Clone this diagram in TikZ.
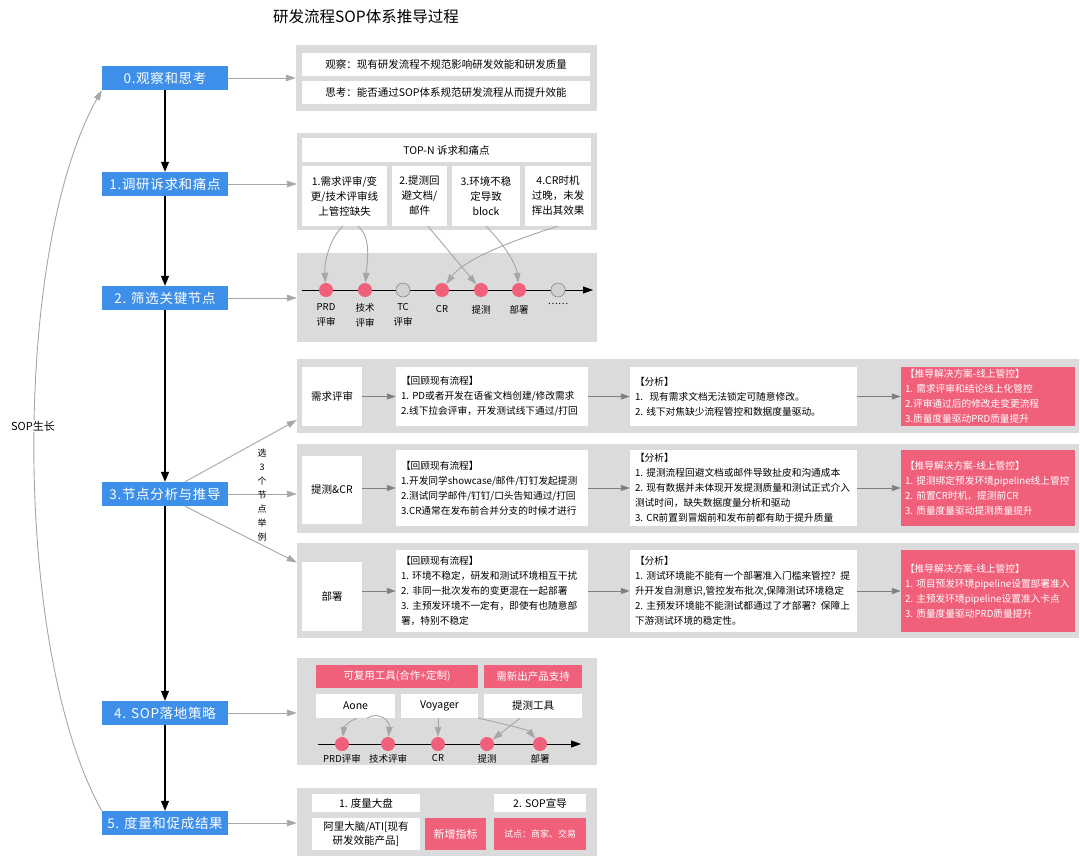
\documentclass[tikz,border=0pt]{standalone}
\usepackage{fontspec}
\setmainfont{Noto Sans CJK SC}
\usetikzlibrary{arrows.meta,positioning,calc}

\definecolor{sopblue}{HTML}{3D8FEA}
\definecolor{sopred}{HTML}{F0607A}
\definecolor{panelgray}{HTML}{DBDBDB}
\definecolor{linkgray}{HTML}{A6A6A6}
\definecolor{flowgray}{HTML}{7F7F7F}
\definecolor{dotgray}{HTML}{D2D2D2}
\definecolor{dotline}{HTML}{8A8A8A}

\newcommand{\stagefont}{\fontsize{13.5}{16}\selectfont\addfontfeature{LetterSpace=5}}
\newcommand{\boxfont}{\fontsize{10.5}{15}\selectfont}
\newcommand{\notefont}{\fontsize{9.7}{15}\selectfont}
\newcommand{\tinyfont}{\fontsize{9.5}{15}\selectfont}

\begin{document}
\begin{tikzpicture}[x=1pt,y=-1pt,
  stagebox/.style={fill=sopblue,text=white,minimum width=126pt,minimum height=24pt,inner sep=0pt,font=\stagefont},
  panel/.style={fill=panelgray,inner sep=0pt},
  wbox/.style={fill=white,inner sep=0pt,align=center,font=\boxfont},
  crbox/.style={fill=sopred,text=white,inner sep=0pt,align=center,font=\boxfont},
  lbox/.style={fill=white,inner xsep=5pt,inner ysep=0pt,align=left,font=\notefont},
  rbox/.style={fill=sopred,text=white,inner xsep=4pt,inner ysep=0pt,align=left,font=\notefont},
  reddot/.style={circle,fill=sopred,minimum size=14pt,inner sep=0pt},
  greydot/.style={circle,fill=dotgray,draw=dotline,line width=0.6pt,minimum size=14pt,inner sep=0pt},
  lbl/.style={font=\tinyfont,align=center,inner sep=0pt},
  main/.style={-{Triangle[length=10pt,width=8pt]},line width=1.1pt},
  link/.style={-{Triangle[length=10pt,width=6.5pt]},draw=linkgray,line width=0.9pt},
  flow/.style={-{Triangle[length=9pt,width=6pt]},draw=flowgray,line width=0.9pt},
  timeline/.style={-{Triangle[length=10pt,width=7pt]},line width=0.9pt}]
  \useasboundingbox (0,0) rectangle (1080,857);

  \node[font=\fontsize{15.5}{18}\selectfont] (title) at (366,17) {研发流程SOP体系推导过程};

  % stages
  \node[stagebox] (b0) at (165,78) {0.观察和思考};
  \node[stagebox] (b1) at (165,184) {1.调研诉求和痛点};
  \node[stagebox] (b2) at (165,298) {2. 筛选关键节点};
  \node[stagebox] (b3) at (165,494) {3.节点分析与推导};
  \node[stagebox] (b4) at (165,713) {4. SOP落地策略};
  \node[stagebox] (b5) at (165,823) {5. 度量和促成结果};
  \draw[main] (b0) -- (b1);
  \draw[main] (b1) -- (b2);
  \draw[main] (b2) -- (b3);
  \draw[main] (b3) -- (b4);
  \draw[main] (b4) -- (b5);

  \draw[link] (b5.north west) .. controls (12,650) and (12,250) .. (b0.south west);
  \node[fill=white,inner sep=1pt,font=\fontsize{11}{13}\selectfont] (grow) at (33,426) {SOP生长};

  % 0
  \node[panel,minimum width=301pt,minimum height=66pt] (p0) at (446.5,78) {};
  \node[wbox,minimum width=288pt,minimum height=23pt] (o1) at (446,64.5) {观察：现有研发流程不规范影响研发效能和研发质量};
  \node[wbox,minimum width=288pt,minimum height=23pt] (o2) at (446,92.5) {思考：能否通过SOP体系规范研发流程从而提升效能};
  \draw[link] (b0) -- (b0 -| p0.west);

  % 1
  \node[panel,minimum width=300pt,minimum height=97pt] (p1) at (447,181.5) {};
  \node[wbox,minimum width=289pt,minimum height=24pt] (hdr) at (446.5,150) {TOP-N 诉求和痛点};
  \node[wbox,minimum width=85pt,minimum height=60pt] (qa) at (344.5,196) {1.需求评审/变\\更/技术评审线\\上管控缺失};
  \node[wbox,minimum width=55pt,minimum height=60pt] (qb) at (419.5,196) {2.提测回\\避文档/\\邮件};
  \node[wbox,minimum width=68pt,minimum height=60pt] (qc) at (486,196) {3.环境不稳\\定导致\\block};
  \node[wbox,minimum width=66pt,minimum height=60pt] (qd) at (558,196) {4.CR时机\\过晚，未发\\挥出其效果};
  \draw[link] (b1) -- (b1 -| p1.west);

  % 2
  \node[panel,minimum width=300pt,minimum height=89pt] (p2) at (447,297.5) {};
  \coordinate (s0) at (302,290);
  \coordinate (s1) at (593,290);
  \draw[timeline] (s0) -- (s1);
  \node[reddot] (k1) at (326,290) {};
  \node[reddot] (k2) at (365,290) {};
  \node[greydot] (k3) at (403,290) {};
  \node[reddot] (k4) at (442,290) {};
  \node[reddot] (k5) at (481,290) {};
  \node[reddot] (k6) at (519,290) {};
  \node[greydot] (k7) at (558,290) {};
  \node[lbl,below=6pt of k1] {PRD\\评审};
  \node[lbl,below=6pt of k2] {技术\\评审};
  \node[lbl,below=6pt of k3] {TC\\评审};
  \node[lbl,below=8pt of k4] {CR};
  \node[lbl,below=8pt of k5] {提测};
  \node[lbl,below=8pt of k6] {部署};
  \node[lbl,below=6pt of k7] {……};
  \draw[link] ([xshift=-1.5pt]qa.south) .. controls (330,238) and (324,262) .. (k1);
  \draw[link] ([xshift=13.5pt]qa.south) .. controls (372,238) and (367,262) .. (k2);
  \draw[link] ([xshift=8.5pt]qb.south) -- (k5);
  \draw[link] (qc.south) .. controls (500,240) and (516,262) .. (k6);
  \draw[link] (qd.south) .. controls (520,238) and (465,258) .. (k4);
  \draw[link] (b2) -- (b2 -| p2.west);

  % 3
  \node[panel,minimum width=782pt,minimum height=74pt] (p3a) at (688,396) {};
  \node[wbox,minimum width=60pt,minimum height=59pt] (n3a) at (332,396.5) {需求评审};
  \node[lbox,text width=182pt,minimum height=59pt] (r3a) at (492,396.5) {【回顾现有流程】\\1.~PD或者开发在语雀文档创建/修改需求\\2.线下拉会评审，开发测试线下通过/打回};
  \node[lbox,text width=217pt,minimum height=59pt] (a3a) at (743.5,396.5) {【分析】\\1.\ \ 现有需求文档无法锁定可随意修改。\\2.~线下对焦缺少流程管控和数据度量驱动。};
  \node[rbox,text width=166pt,minimum height=59pt] (s3a) at (988,396.5) {【推导解决方案-线上管控】\\1.~需求评审和结论线上化管控\\2.评审通过后的修改走变更流程\\3.质量度量驱动PRD质量提升};
  \draw[flow] (n3a) -- (r3a);
  \draw[flow] (r3a) -- (a3a);
  \draw[flow] (a3a) -- (s3a);

  \node[panel,minimum width=782pt,minimum height=89pt] (p3b) at (688,488.5) {};
  \node[wbox,minimum width=60pt,minimum height=68pt] (n3b) at (332,490) {提测\&CR};
  \node[lbox,text width=182pt,minimum height=76pt] (r3b) at (492,488) {【回顾现有流程】\\1.开发同学showcase/邮件/钉钉发起提测\\2.测试同学邮件/钉钉/口头告知通过/打回\\3.CR通常在发布前合并分支的时候才进行};
  \node[lbox,text width=217pt,minimum height=76pt] (a3b) at (743.5,488) {【分析】\\1.~提测流程回避文档或邮件导致扯皮和沟通成本\\2.~现有数据并未体现开发提测质量和测试正式介入\\测试时间，缺失数据度量分析和驱动\\3.~CR前置到冒烟前和发布前都有助于提升质量};
  \node[rbox,text width=166pt,minimum height=76pt] (s3b) at (988,488) {【推导解决方案-线上管控】\\1.~提测绑定预发环境pipeline线上管控\\2.~前置CR时机，提测前CR\\3.~质量度量驱动提测质量提升};
  \draw[flow] (n3b.east |- r3b) -- (r3b);
  \draw[flow] (r3b) -- (a3b);
  \draw[flow] (a3b) -- (s3b);

  \node[panel,minimum width=782pt,minimum height=95pt] (p3c) at (688,590.5) {};
  \node[wbox,minimum width=60pt,minimum height=69pt] (n3c) at (332,596.5) {部署};
  \node[lbox,text width=182pt,minimum height=82pt] (r3c) at (492,591) {【回顾现有流程】\\1.~环境不稳定，研发和测试环境相互干扰\\2.~非同一批次发布的变更混在一起部署\\3.~主预发环境不一定有，即使有也随意部\\署，特别不稳定};
  \node[lbox,text width=217pt,minimum height=82pt] (a3c) at (743.5,591) {【分析】\\1.~测试环境能不能有一个部署准入门槛来管控？提\\升开发自测意识,管控发布批次,保障测试环境稳定\\2.~主预发环境能不能测试都通过了才部署？保障上\\下游测试环境的稳定性。};
  \node[rbox,text width=166pt,minimum height=82pt] (s3c) at (988,591) {【推导解决方案-线上管控】\\1.~项目预发环境pipeline设置部署准入\\2.~主预发环境pipeline设置准入卡点\\3.~质量度量驱动PRD质量提升};
  \draw[flow] (n3c.east |- r3c) -- (r3c);
  \draw[flow] (r3c) -- (a3c);
  \draw[flow] (a3c) -- (s3c);

  \draw[link] ([xshift=20pt]b3.north) -- ([yshift=-24pt]p3a.west);
  \draw[link] (b3) -- (b3 -| p3b.west);
  \draw[link] ([xshift=20pt]b3.south) -- ([yshift=28pt]p3c.west);
  \node[lbl,font=\fontsize{9}{14}\selectfont] (pick) at (262,495) {选\\3\\个\\节\\点\\举\\例};

  % 4
  \node[panel,minimum width=300pt,minimum height=107pt] (p4) at (447,711.5) {};
  \node[crbox,minimum width=162pt,minimum height=23pt] (t1) at (397,676.5) {可复用工具(合作+定制)};
  \node[crbox,minimum width=98pt,minimum height=23pt] (t2) at (533,676.5) {需新出产品支持};
  \node[wbox,minimum width=79pt,minimum height=24pt] (u1) at (355.5,706) {Aone};
  \node[wbox,minimum width=77pt,minimum height=24pt] (u2) at (439.5,706) {Voyager};
  \node[wbox,minimum width=98pt,minimum height=24pt] (u3) at (533,706) {提测工具};
  \coordinate (v0) at (318,744);
  \coordinate (v1) at (581,744);
  \draw[timeline] (v0) -- (v1);
  \node[reddot] (j1) at (342,744) {};
  \node[reddot] (j2) at (388,744) {};
  \node[reddot] (j3) at (438,744) {};
  \node[reddot] (j4) at (487,744) {};
  \node[reddot] (j5) at (540,744) {};
  \node[lbl,below=3pt of j1] {PRD评审};
  \node[lbl,below=3pt of j2] {技术评审};
  \node[lbl,below=3pt of j3] {CR};
  \node[lbl,below=3pt of j4] {提测};
  \node[lbl,below=3pt of j5] {部署};
  \draw[link] ([xshift=1.5pt]u1.south) .. controls (349,721) and (344,727) .. (j1);
  \draw[link] ([xshift=11.5pt]u1.south) .. controls (378,711) and (390,720) .. (j2);
  \draw[link] ([xshift=-1.5pt]u2.south) -- (j3);
  \draw[link] (u2.south east) .. controls (505,724) and (528,730) .. (j5);
  \draw[link] ([xshift=-13pt]u3.south) -- (j4);
  \draw[link] (b4) -- (b4 -| p4.west);

  % 5
  \node[panel,minimum width=300pt,minimum height=68pt] (p5) at (447,822) {};
  \node[wbox,minimum width=108pt,minimum height=18pt] (m1) at (366,803) {1. 度量大盘};
  \node[wbox,minimum width=92pt,minimum height=18pt] (m2) at (540,803) {2. SOP宣导};
  \node[wbox,minimum width=108pt,minimum height=32pt,font=\fontsize{10.5}{14}\selectfont] (m3) at (366,834) {阿里大脑/ATI[现有\\研发效能产品]};
  \node[crbox,minimum width=61pt,minimum height=32pt,font=\fontsize{11}{14}\selectfont] (m4) at (455.5,834) {新增指标};
  \node[crbox,minimum width=92pt,minimum height=32pt,font=\fontsize{9}{12}\selectfont] (m5) at (540,834) {试点：商家、交易};
  \draw[link] (b5) -- (b5 -| p5.west);
\end{tikzpicture}
\end{document}
